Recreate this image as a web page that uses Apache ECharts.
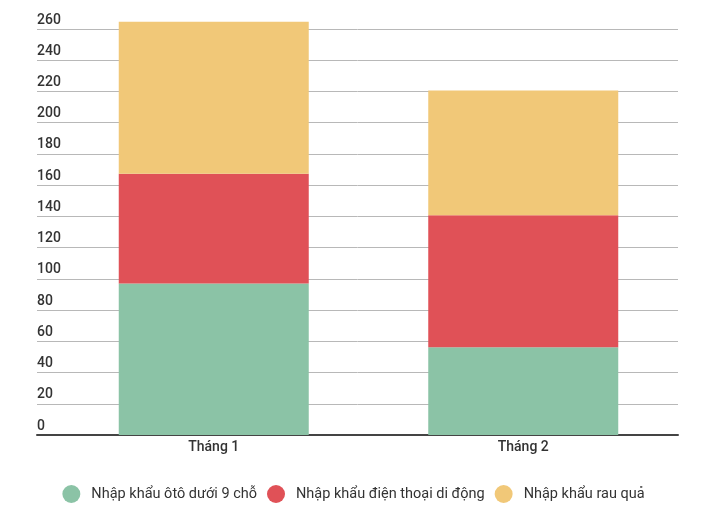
<!DOCTYPE html>
<html>
<head>
<meta charset="utf-8">
<script src="https://cdn.jsdelivr.net/npm/echarts@6/dist/echarts.min.js"></script>
<style>html,body{margin:0;padding:0;background:#fff}#c{width:707px;height:511px}</style>
</head>
<body>
<div id="c"></div>
<script>
const categories = ['Tháng 1', 'Tháng 2'];
const seriesNames = ['Nhập khẩu ôtô dưới 9 chỗ', 'Nhập khẩu điện thoại di động', 'Nhập khẩu rau quả'];
const oto = [97.5, 56.5];
const dienThoai = [70.7, 85.0];
const rauQua = [97.8, 80.3];
const yMin = 0, yMax = 260, yStep = 20;
const barAxisMax = 280;

const colors = ['#8BC3A6', '#E05157', '#F1C878'];
const font = 'Roboto, "Noto Sans", sans-serif';
const plotBottom = 435, plotTop = 29;
const pxPerUnit = (plotBottom - plotTop) / (yMax - yMin);
const barTop = plotBottom - (barAxisMax - yMin) * pxPerUnit;
const chart = echarts.init(document.getElementById('c'), null, {renderer: 'canvas'});
const values = [oto, dienThoai, rauQua];
chart.setOption({
  animation: false,
  color: colors,
  grid: [
    {left: 37, right: 29, top: plotTop, bottom: 511 - plotBottom},
    {left: 59, right: 29, top: barTop, bottom: 511 - plotBottom}
  ],
  xAxis: [
    {gridIndex: 0, type: 'category', data: categories, show: true,
     axisLine: {show: true, lineStyle: {color: '#444', width: 2}},
     axisTick: {show: false}, axisLabel: {show: false}},
    {gridIndex: 1, type: 'category', data: categories,
     axisLine: {show: false}, axisTick: {show: false},
     axisLabel: {color: '#333', fontFamily: font, fontSize: 14, fontWeight: 500, margin: 5}}
  ],
  yAxis: [
    {gridIndex: 0, type: 'value', min: yMin, max: yMax, interval: yStep,
     axisLine: {show: false}, axisTick: {show: false},
     splitLine: {lineStyle: {color: '#b8b8b8', width: 1}},
     axisLabel: {inside: true, margin: 0, color: '#333', fontFamily: font, fontSize: 14, fontWeight: 500,
                 verticalAlign: 'bottom', padding: [0, 0, 2, 0]}},
    {gridIndex: 1, type: 'value', min: yMin, max: barAxisMax, show: false}
  ],
  legend: {
    bottom: 3, left: 'center', icon: 'circle', itemWidth: 18, itemHeight: 18, itemGap: 10,
    textStyle: {color: '#333', fontFamily: font, fontSize: 14.5, padding: [0, 0, 0, 6]},
    data: seriesNames
  },
  series: seriesNames.map((n, i) => ({
    name: n, type: 'bar', stack: 'total', xAxisIndex: 1, yAxisIndex: 1,
    barWidth: 190, data: values[i]
  }))
});
</script>
</body>
</html>
